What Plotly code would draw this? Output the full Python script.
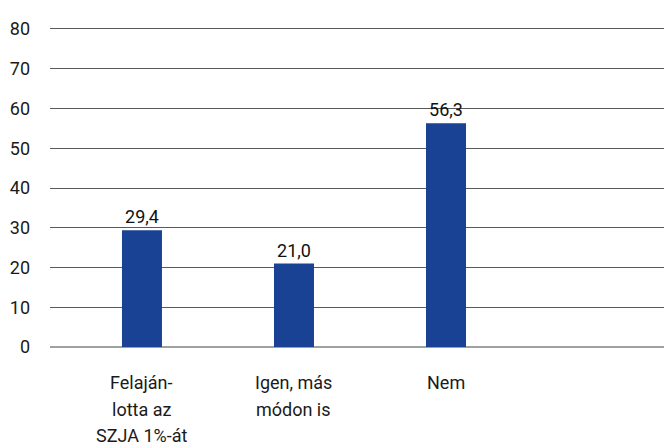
import plotly.graph_objects as go

# Data
categories = ["Felaján-<br>lotta az<br>SZJA 1%-át", "Igen, más<br>módon is", "Nem"]
values = [29.4, 21.0, 56.3]
y_ticks = [0, 10, 20, 30, 40, 50, 60, 70, 80]

BAR_COLOR = '#1a4294'
FONT = 'Roboto'

x_pos = list(range(len(categories)))

fig = go.Figure()
fig.add_trace(go.Bar(
    x=x_pos,
    y=values,
    width=40 / 152,
    marker=dict(color=BAR_COLOR, line=dict(width=0)),
    text=[f"{v:.1f}".replace('.', ',') for v in values],
    textposition='outside',
    textfont=dict(family=FONT, size=18, color='#111111'),
    cliponaxis=False,
    showlegend=False,
))

# category labels, one annotation per line so the line spacing matches
annotations = []
for xi, label in zip(x_pos, categories):
    for li, line in enumerate(label.split('<br>')):
        annotations.append(dict(
            x=xi, xref='x', y=0, yref='paper',
            text=line, showarrow=False,
            xanchor='center', yanchor='top',
            yshift=-21 - 26.5 * li,
            font=dict(family=FONT, size=18, color='#1a1a1a'),
        ))

fig.update_layout(
    width=664, height=443,
    margin=dict(l=50, r=0, t=27, b=94),
    paper_bgcolor='white',
    plot_bgcolor='white',
    font=dict(family=FONT, color='#1a1a1a'),
    annotations=annotations,
    xaxis=dict(
        range=[-0.605, 3.434],
        showticklabels=False,
        showgrid=False,
        zeroline=False,
        showline=False,
        fixedrange=True,
    ),
    yaxis=dict(
        range=[-0.5, 80.5],
        tickvals=y_ticks,
        ticktext=[str(t) for t in y_ticks],
        showgrid=True,
        gridcolor='#5a5a5a',
        gridwidth=1,
        zeroline=True,
        zerolinecolor='#a0a0a0',
        zerolinewidth=2,
        showline=False,
        ticks='',
        ticklabelstandoff=19,
        tickfont=dict(family=FONT, size=18, color='#1a1a1a'),
        fixedrange=True,
    ),
)

# drop the default page margin so the figure sits at the window's corner
fig.write_html("out.html", config={'displayModeBar': False},
               post_script="document.body.style.margin='0';")
